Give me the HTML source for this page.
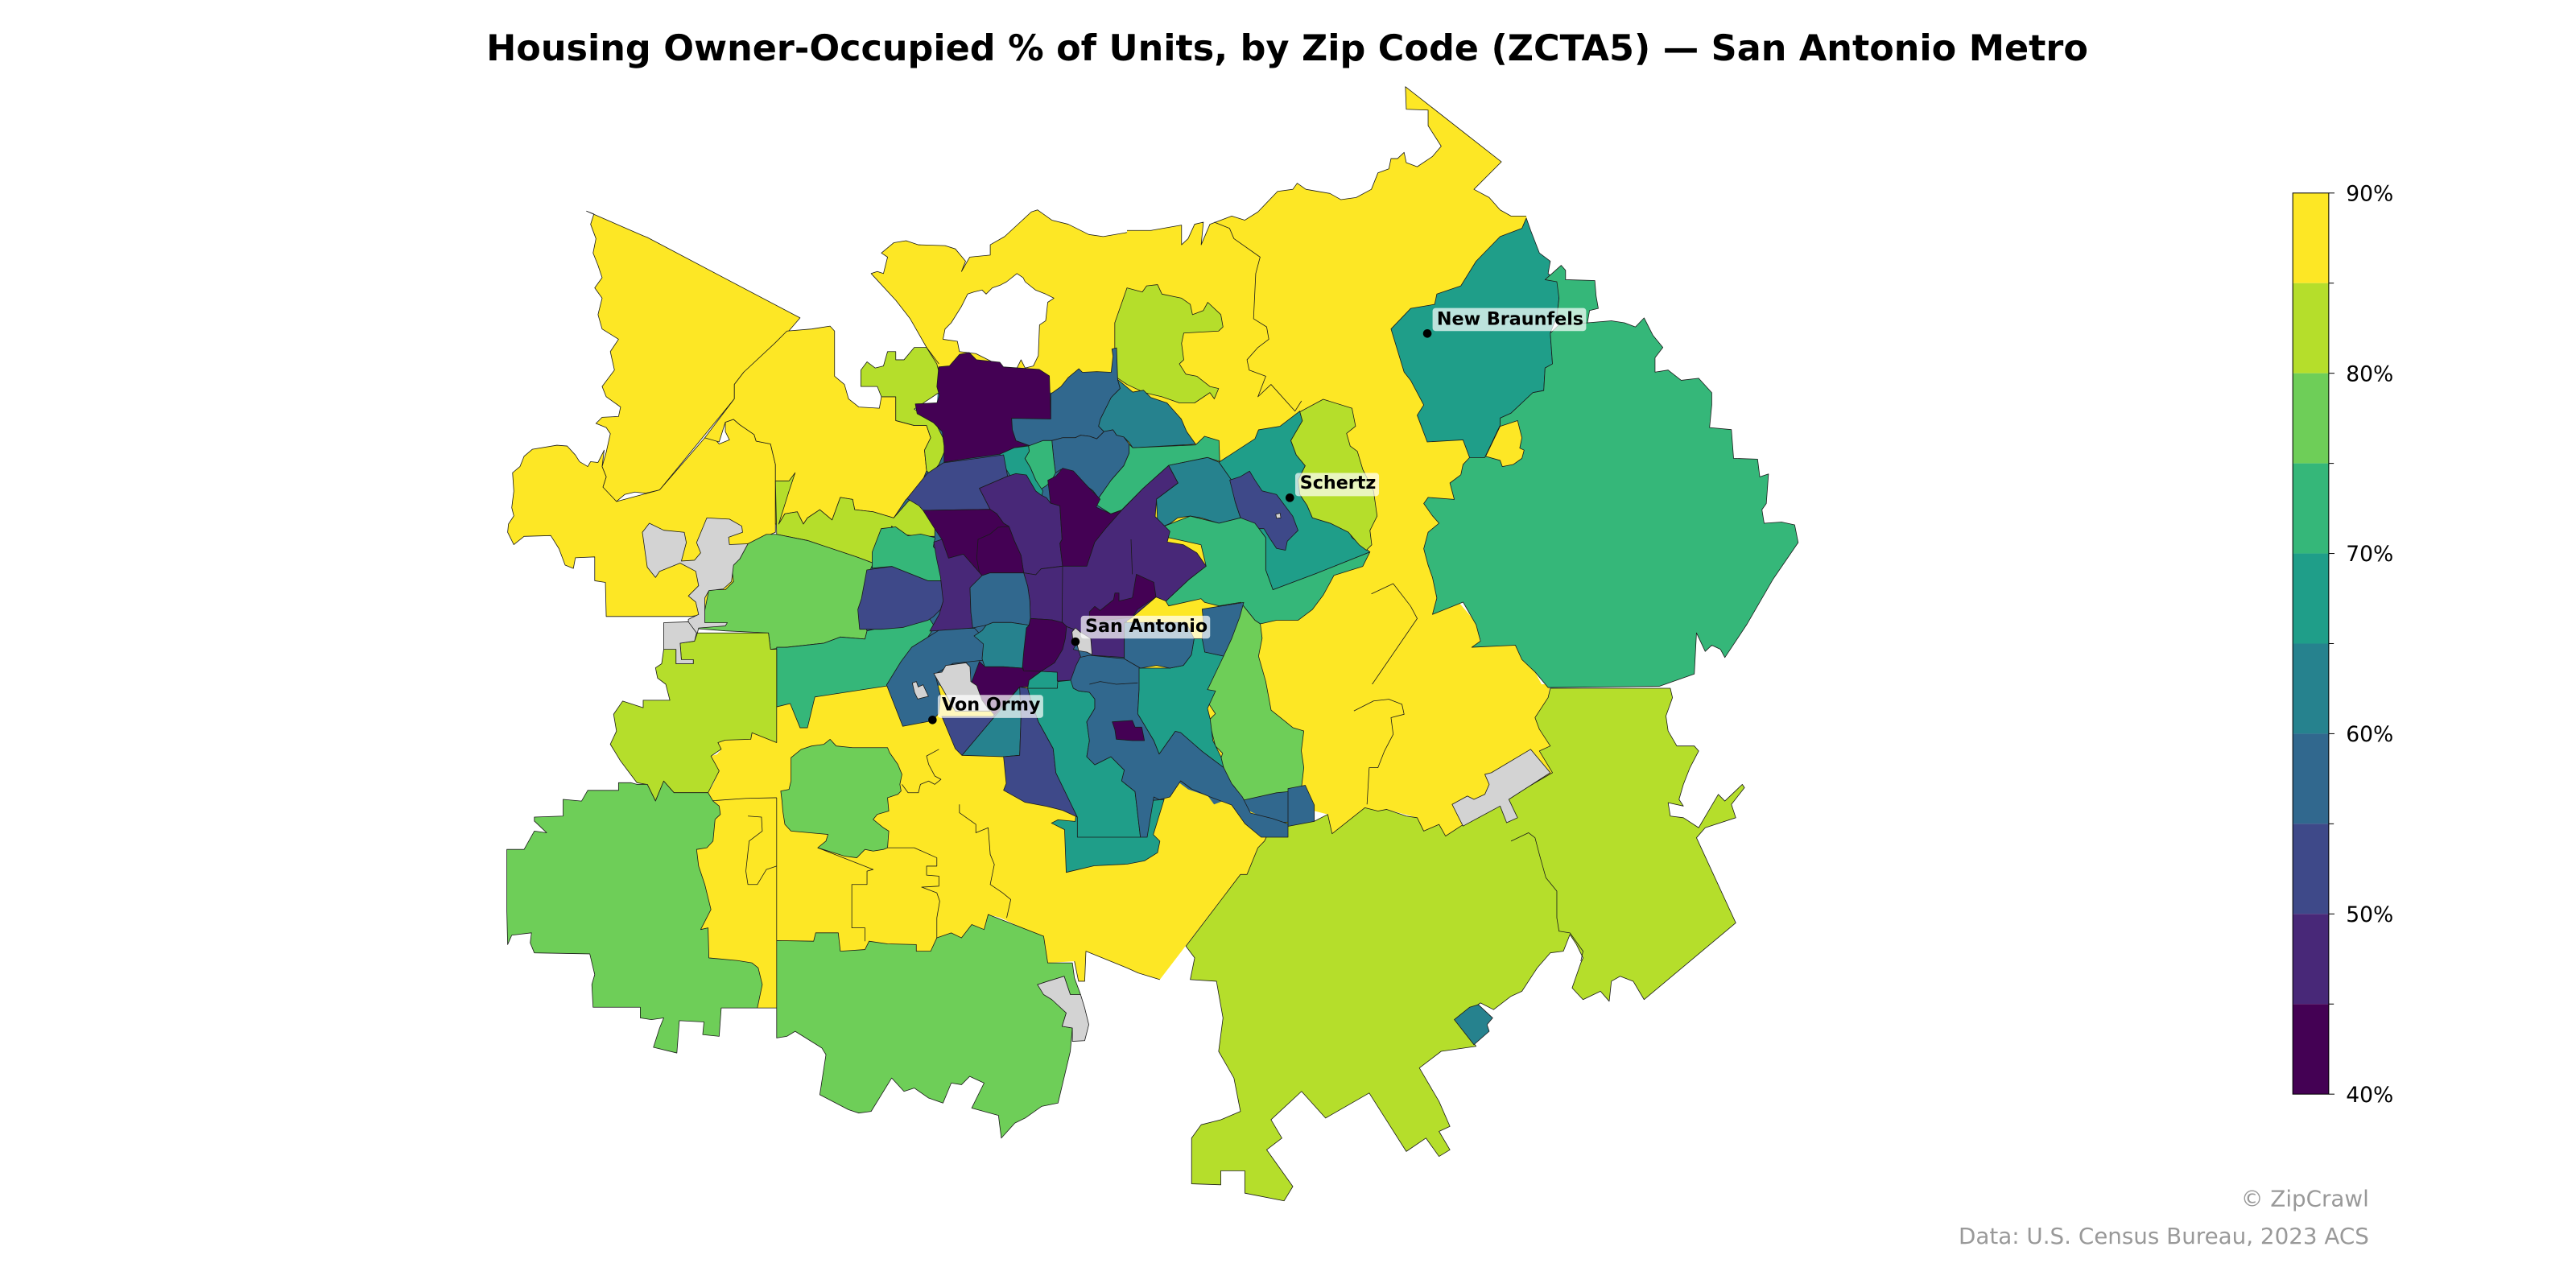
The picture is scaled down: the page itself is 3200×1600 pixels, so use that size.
<!DOCTYPE html>
<html><head><meta charset="utf-8"><style>
html,body{margin:0;padding:0;background:#fff;}
svg{display:block;}
.m polygon{stroke:#1a1a1a;stroke-width:0.8;vector-effect:non-scaling-stroke;stroke-linejoin:round;}
.m polygon.nf{stroke:none;}
.m polyline{fill:none;stroke:#1a1a1a;stroke-width:0.8;vector-effect:non-scaling-stroke;stroke-linejoin:round;}
</style></head><body>
<svg width="3200" height="1600" viewBox="0 0 1568 784" xmlns="http://www.w3.org/2000/svg">
<rect x="0" y="0" width="1568" height="784" fill="#fff"/>
<g class="m">
<!-- central safety base -->
<polygon class="nf" fill="#31688e" points="572,222 640,222 680,228 700,245 740,250 760,262 790,258 830,280 835,335 800,350 795,380 795,478 800,500 760,508 705,522 650,527 645,500 600,490 575,470 550,445 540,420 522,405 522,345 535,318 550,300 560,260 570,250"/>
<!-- ===== YELLOW LAYER ===== -->
<g transform="translate(294,49) scale(0.25)">
<polygon fill="#fde725" points="252,318 390,378 400,382 772,578 710,650 660,700 635,710 612,740 612,775 430,997 395,1005 370,1002 345,1008 325,1025 310,1015 292,990 300,965 290,940 300,905 310,860 300,845 275,835 290,820 330,818 335,795 300,770 290,745 320,705 310,660 330,630 290,605 280,570 290,530 272,505 290,480 280,450 268,420 275,385 262,350 270,325"/>
<polygon fill="#fde725" points="60,1100 75,1130 100,1110 165,1108 185,1140 200,1180 220,1188 225,1162 272,1160 272,1218 298,1222 300,1305 505,1305 540,1300 610,1220 645,1128 712,1100 712,935 700,885 665,878 660,862 625,838 610,825 590,832 590,855 600,875 575,885 560,868 540,870 430,997 325,1025 292,990 300,965 290,940 295,900 280,930 262,928 255,940 235,928 225,912 205,890 180,888 120,898 100,915 90,940 72,955 75,1000 70,1040 75,1060 62,1080"/>
<polygon fill="#fde725" points="612,740 635,710 710,640 740,610 800,605 845,598 856,610 856,720 880,740 890,775 915,795 965,798 970,770 1005,770 1005,828 1050,840 1080,840 1090,870 1075,900 1080,950 1060,1000 1030,1020 1000,1065 950,1050 905,1045 900,1020 870,1015 850,1070 820,1045 790,1065 780,1080 765,1050 735,1055 720,1080 712,1080 712,935 700,885 665,878 660,862 625,838 610,825 590,832 575,880 540,870 612,775"/>
<polygon class="nf" fill="#fde725" points="945,470 960,465 975,470 985,430 970,420 1000,395 1030,390 1060,400 1125,402 1150,410 1175,440 1165,465 1185,430 1235,425 1235,400 1270,380 1335,320 1350,315 1385,340 1425,350 1475,375 1510,380 1568,370 1568,760 1100,760 1080,650 1040,580 1005,535"/>
<polyline points="1110,690 1080,650 1040,580 1005,535 945,470 960,465 975,470 985,430 970,420 1000,395 1030,390 1060,400 1125,402 1150,410 1175,440 1165,465 1185,430 1235,425 1235,400 1270,380 1335,320 1350,315 1385,340 1425,350 1475,375 1510,380 1568,370"/>
</g>
<g transform="translate(686,49) scale(0.265625,0.25)">
<polygon class="nf" fill="#fde725" points="0,365 55,365 125,352 125,400 140,385 155,350 175,345 170,400 190,350 240,330 270,340 300,320 345,270 380,265 390,250 410,265 465,275 490,290 525,285 560,265 575,225 600,215 605,190 620,190 635,175 640,200 665,210 700,185 720,160 690,110 690,72 640,70 638,15 858,198 795,265 830,285 855,315 880,330 915,330 930,400 900,700 850,900 820,1100 760,1270 800,1320 810,1370 890,1375 935,1440 965,1500 965,1568 0,1568"/>
<polyline points="0,365 55,365 125,352 125,400 140,385 155,350 175,345 170,400 190,350 240,330 270,340 300,320 345,270 380,265 390,250 410,265 465,275 490,290 525,285 560,265 575,225 600,215 605,190 620,190 635,175 640,200 665,210 700,185 720,160 690,110 690,72 640,70 638,15 858,198 795,265 830,285 855,315 880,330 915,330"/>
<polyline points="200,345 235,360 245,385 305,430 295,470 290,580 320,600 325,630 300,650 275,680 280,705 318,720 300,770 330,740 385,805 400,780"/>
<polyline points="560,1250 610,1225 650,1280 665,1310 520,1535 520,1568"/>
</g>
<g transform="translate(294,416.5) scale(0.25,0.203125)">
<polygon class="nf" fill="#fde725" points="715,60 748,58 772,130 790,130 808,38 985,5 1568,0 1568,540 1610,530 1642,505 1648,470 1632,450 1658,345 1674,320 1695,295 1717,315 1765,335 1780,360 1812,345 1850,370 1924,415 1903,470 1887,490 1860,570 1844,570 1648,885 1595,865 1568,850 1468,800 1465,890 1450,890 1440,830 1375,835 1365,760 1260,700 1230,690 1220,735 1190,720 1165,760 1140,745 1105,760 1090,800 1055,800 1055,780 985,778 940,770 930,795 870,800 865,745 810,745 805,770 715,768 715,970 668,970 680,900 670,850 655,835 620,828 550,820 548,730 530,735 555,675 540,600 525,545 520,495 545,490 560,470 565,405 578,390 575,365 560,350 548,325 560,300 575,260 565,240 555,215 570,210 580,195 572,175 590,168 652,165 655,145 715,175"/>
<polyline points="1648,885 1595,865 1568,850 1468,800 1465,890 1450,890 1440,830"/>
<polyline points="715,970 668,970"/>
<polyline points="715,340 715,768"/>
<polyline points="548,350 640,342 715,340"/>
<polyline points="645,395 678,398 680,440 648,470 640,560 645,600 668,600 690,555 715,545"/>
<polyline points="815,490 950,555 935,560 935,600 898,600 898,730 930,730 930,770"/>
<polyline points="985,490 1050,490 1105,520 1105,545 1080,545 1080,572 1110,575 1110,605 1068,608 1105,625 1112,650 1105,700 1105,765"/>
<polyline points="1020,300 1035,325 1060,325 1065,300 1085,290 1100,300 1115,285 1100,275 1085,240 1080,215 1110,195"/>
<polyline points="1160,360 1160,385 1200,420 1200,445 1230,430 1235,510 1245,540 1235,600 1265,625 1285,645 1275,700"/>
</g>
<g transform="translate(686,416.5) scale(0.265625,0.203125)">
<polygon class="nf" fill="#fde725" points="220,0 970,0 965,40 935,100 945,135 970,185 945,200 975,265 765,425 730,455 715,420 680,440 665,400 595,375 575,380 545,370 470,448 460,390 430,380 410,350 400,305 300,320 230,280 180,150"/>
<polyline points="520,80 565,50 600,45 630,60 635,90 605,100 610,150 590,200 575,250 555,250 550,360"/>
</g>

<!-- ===== OUTER COLORED REGIONS ===== -->
<g transform="translate(294,49) scale(0.25)">
<polygon fill="#ffffff" points="1120,630 1125,605 1140,590 1165,550 1180,520 1195,515 1215,510 1225,520 1240,505 1260,498 1275,490 1300,470 1315,480 1320,490 1345,510 1370,520 1390,530 1375,540 1370,585 1355,595 1352,670 1340,695 1320,700 1310,680 1300,700 1270,700 1240,685 1200,665 1160,660 1155,635"/>
<polygon fill="#b5de2b" points="920,705 935,685 955,700 975,695 985,660 1005,660 1005,680 1025,680 1050,650 1080,650 1105,690 1115,730 1110,760 1080,780 1050,800 1100,830 1120,870 1125,900 1110,935 1090,960 1080,950 1075,900 1090,870 1080,840 1050,840 1005,828 1005,770 970,770 960,745 920,745"/>
<polygon fill="#b5de2b" points="712,975 745,975 760,955 745,1000 720,1080 735,1055 765,1050 780,1080 790,1065 820,1045 850,1070 870,1015 900,1020 905,1045 950,1050 1000,1065 1035,1025 1060,1005 1085,1040 1100,1080 1100,1110 1060,1110 1020,1105 995,1085 975,1150 950,1175 910,1160 790,1120 715,1105"/>
<polygon fill="#6ece58" points="525,1335 540,1290 550,1240 590,1240 610,1220 605,1180 625,1165 645,1128 690,1105 715,1105 790,1120 910,1160 950,1175 935,1210 930,1270 920,1300 935,1340 930,1360 870,1355 830,1370 740,1380 700,1385 695,1345 590,1340"/>
<polygon fill="#35b779" points="715,1380 740,1380 830,1370 870,1355 930,1360 935,1340 1000,1325 1080,1300 1100,1330 1060,1390 1030,1440 985,1474 808,1501 790,1576 772,1576 748,1517 715,1525"/>
<polygon fill="#b5de2b" points="440,1385 470,1385 470,1420 512,1420 512,1410 483,1410 480,1370 515,1365 522,1345 695,1345 700,1385 715,1385 715,1612 655,1588 652,1604 590,1606 572,1612 580,1628 555,1645 575,1681 548,1734 465,1734 440,1706 420,1754 400,1714 375,1710 335,1657 310,1616 325,1584 318,1543 340,1511 390,1527 390,1509 455,1509 445,1470 425,1455 420,1430 435,1420"/>
<polygon fill="#d3d3d3" points="388,1100 405,1078 440,1095 490,1100 495,1125 483,1170 515,1168 530,1150 520,1125 545,1065 600,1068 630,1085 632,1100 598,1112 600,1130 645,1128 625,1165 610,1180 605,1220 585,1238 550,1242 540,1260 540,1320 595,1320 590,1328 525,1333 522,1345 500,1345 500,1312 525,1300 518,1270 500,1255 525,1230 518,1195 480,1175 430,1195 420,1210 400,1185 395,1150"/>
<polygon fill="#d3d3d3" points="440,1320 500,1318 520,1345 515,1365 480,1370 483,1410 512,1410 512,1420 470,1420 470,1385 440,1385 440,1350"/>
</g>
<g transform="translate(686,49) scale(0.265625,0.25)">
<polygon fill="#1f9e89" points="605,605 650,555 705,545 710,520 765,500 800,440 855,380 905,360 915,335 925,365 945,420 970,440 965,470 988,490 990,530 985,575 970,615 975,690 958,700 955,755 930,760 880,810 855,822 855,840 820,918 785,918 770,875 688,880 665,815 680,790 650,730 635,710 625,675"/>
<polygon fill="#35b779" points="970,615 990,595 1055,590 1110,585 1140,590 1165,600 1185,578 1205,620 1228,650 1210,675 1210,710 1240,705 1270,730 1310,725 1340,760 1340,790 1335,845 1385,850 1390,920 1445,922 1450,965 1470,958 1465,1030 1455,1045 1460,1078 1500,1075 1530,1082 1538,1125 1480,1215 1420,1325 1370,1405 1360,1385 1340,1375 1325,1390 1305,1345 1300,1445 1220,1475 965,1478 935,1440 905,1410 890,1375 790,1380 810,1365 800,1325 770,1270 700,1300 710,1260 700,1210 690,1180 680,1140 690,1100 715,1078 700,1060 680,1030 690,1015 750,1020 740,980 765,960 770,935 785,918 820,918 855,840 855,822 880,810 930,760 955,755 958,700 975,690"/>
<polygon fill="#35b779" points="958,485 995,450 1005,462 1005,485 1072,487 1075,525 1080,555 1060,560 1055,590 990,595 985,575 990,530 985,490"/>
<polygon fill="#fde725" points="822,915 855,842 895,828 905,870 900,895 910,900 905,920 885,935 860,940 855,925"/>
<polygon fill="#b5de2b" points="-28,590 0,505 35,515 45,500 70,497 80,520 125,530 145,545 150,570 175,560 185,540 215,570 220,600 210,610 130,615 125,640 130,680 120,690 135,715 160,720 190,745 210,750 200,775 190,760 155,785 120,785 80,770 40,760 0,740 -28,720"/>
</g>
<g transform="translate(294,416.5) scale(0.25,0.203125)">
<polygon fill="#6ece58" points="750,220 775,195 800,185 830,180 845,165 860,185 900,190 985,190 990,205 1010,240 1020,270 1015,300 1018,320 1010,330 985,340 988,380 960,390 950,405 975,430 988,440 985,490 975,495 950,500 930,495 910,520 880,515 815,490 835,470 840,450 750,440 735,420 730,380 728,350 725,320 745,315 750,290"/>
<polygon fill="#6ece58" points="58,495 100,495 125,440 155,445 125,410 125,398 195,395 195,345 240,350 255,318 330,318 330,295 360,295 375,300 400,300 420,350 440,290 465,325 548,325 560,350 575,365 578,390 565,405 560,470 545,490 520,495 525,545 540,600 555,675 530,735 548,730 550,820 620,828 655,835 670,850 680,900 668,970 580,970 575,1055 535,1050 538,1012 478,1008 472,1105 415,1088 430,1030 440,1000 410,1005 383,1000 383,968 268,968 265,900 272,870 260,808 125,805 115,775 118,745 70,752 60,780 58,680"/>
<polygon fill="#6ece58" points="715,768 805,770 810,745 865,745 870,800 930,795 940,770 985,778 1055,780 1055,800 1090,800 1105,760 1140,745 1165,760 1190,720 1220,735 1230,690 1365,755 1375,835 1435,835 1440,880 1455,930 1430,930 1415,875 1350,900 1385,945 1410,960 1420,985 1410,1025 1435,1030 1430,1100 1400,1255 1360,1265 1320,1300 1295,1315 1262,1360 1255,1292 1190,1270 1220,1195 1185,1175 1165,1200 1140,1195 1120,1255 1085,1240 1050,1210 1025,1220 995,1180 945,1280 915,1285 890,1275 820,1230 835,1110 825,1090 760,1040 740,1055 715,1060"/>
<polygon fill="#d3d3d3" points="1350,900 1375,890 1415,875 1430,930 1455,930 1465,970 1475,1020 1465,1068 1435,1070 1435,1030 1410,1025 1420,985 1385,945 1365,930"/>
</g>
<g transform="translate(686,416.5) scale(0.265625,0.203125)">
<polygon fill="#b5de2b" points="335,415 430,410 460,390 470,448 545,370 575,380 595,375 640,395 665,400 680,440 715,420 730,455 765,425 975,265 945,200 970,185 945,135 935,100 965,40 970,12 1245,12 1250,40 1235,95 1240,140 1260,185 1300,185 1310,200 1290,250 1275,300 1265,345 1275,365 1240,355 1245,395 1275,400 1310,430 1355,330 1370,350 1410,300 1415,310 1385,360 1395,400 1325,430 1305,460 1395,715 1185,945 1160,890 1130,875 1110,890 1105,950 1085,920 1045,945 1020,910 1040,835 1045,820 1030,780 1015,750 1000,800 970,805 940,850 905,920 880,935 840,975 810,955 755,1005 800,1085 720,1100 670,1150 715,1250 740,1325 715,1340 740,1395 715,1415 685,1360 640,1400 555,1225 455,1300 400,1220 330,1305 355,1360 320,1395 380,1505 360,1548 270,1525 270,1458 215,1458 215,1500 148,1497 148,1360 170,1320 215,1305 260,1280 245,1180 210,1100 220,1000 205,890 145,885 155,820 135,785 260,570 275,570 300,490 315,470"/>
<polyline points="880,470 920,445 935,460 945,510 960,580 985,620 985,700 990,740 1015,745 1045,800 1040,830"/>
<polygon fill="#d3d3d3" points="745,360 780,335 795,345 820,330 830,300 820,270 835,265 925,195 970,265 875,345 895,400 870,415 855,365 770,425"/>
<polygon fill="#26828e" points="750,1005 785,968 805,960 838,1000 825,1020 830,1040 795,1080"/>
</g>

<!-- ===== CENTRAL (Z3) ===== -->
<g transform="translate(514.5,196) scale(0.21875)">
<polygon fill="#440154" points="195,228 255,225 262,205 255,180 260,125 290,122 318,90 345,85 365,105 430,112 440,125 540,132 568,150 572,270 463,268 465,300 475,330 510,343 470,350 430,368 355,378 275,390 275,345 270,305 255,290 245,280 200,255"/>
<polygon fill="#31688e" points="463,268 572,270 572,200 600,180 620,155 650,130 660,140 700,138 740,140 745,95 742,75 755,72 758,160 765,185 740,210 725,240 710,270 705,290 720,305 700,325 680,318 655,315 640,322 605,322 575,330 550,330 520,345 510,343 475,330 465,300"/>
<polygon fill="#26828e" points="758,160 800,195 830,190 850,210 895,225 935,270 950,305 975,340 800,350 790,335 775,320 755,315 745,300 720,305 705,290 710,270 740,210 765,185"/>
<polygon fill="#31688e" points="575,330 605,322 640,322 655,315 680,318 700,325 720,305 745,300 755,315 775,320 790,340 790,365 775,400 740,440 705,490 690,470 650,440 620,420 600,410 585,420 580,380"/>
<polygon fill="#35b779" points="510,345 550,330 575,330 580,380 585,420 575,440 560,455 545,465 530,440 515,405 500,380 512,360"/>
<polygon fill="#1f9e89" points="430,368 470,350 510,345 512,360 500,380 515,405 530,440 550,470 545,490 535,520 520,505 505,490 495,470 460,430 445,405"/>
<polygon fill="#35b779" points="705,490 698,508 739,534 769,523 829,463 900,399 1008,377 1042,388 1040,330 1000,318 975,342 800,350 790,340 790,365 775,400 740,440"/>
<polygon fill="#26828e" points="866,493 926,448 900,399 1008,377 1040,390 1075,440 1085,500 1100,545 1080,550 1040,560 990,545 960,540 925,545 905,560 870,575"/>
<polygon fill="#1f9e89" points="1040,390 1140,325 1150,300 1210,290 1265,248 1272,275 1240,330 1255,370 1280,400 1260,440 1265,480 1285,510 1300,545 1350,560 1400,580 1410,600 1460,640 1310,700 1190,745 1170,690 1170,600 1140,560 1100,545 1085,500 1075,440"/>
<polygon fill="#3e4989" points="1070,440 1100,430 1125,415 1140,440 1160,470 1200,480 1230,520 1245,540 1260,580 1245,595 1230,610 1225,635 1200,630 1180,600 1165,575 1140,575 1100,545 1085,500"/>
<polygon fill="#d3d3d3" points="1198,535 1210,532 1212,545 1200,546"/>
<polygon fill="#b5de2b" points="1265,250 1330,215 1410,240 1420,290 1395,310 1405,345 1425,360 1440,410 1470,470 1480,540 1460,580 1465,620 1450,635 1430,620 1400,585 1350,560 1300,545 1285,510 1265,480 1260,440 1280,400 1255,370 1240,330 1272,275"/>
<polygon fill="#35b779" points="870,575 960,540 1040,560 1100,545 1140,560 1170,600 1170,690 1190,745 1310,700 1460,640 1440,680 1360,705 1330,760 1300,800 1260,830 1200,830 1155,840 1140,830 1100,780 1040,790 1000,780 990,770 900,790 892,777 956,717 1004,679 990,620 900,600"/>
<polygon fill="#3e4989" points="35,800 45,770 60,690 130,680 180,700 230,720 270,720 275,770 265,800 245,820 230,830 160,850 100,855 40,855"/>
<polygon fill="#35b779" points="75,640 100,575 140,570 175,595 210,590 250,600 245,625 265,650 270,720 230,720 180,700 130,680 75,685"/>
<polygon fill="#31688e" points="115,1010 155,945 185,905 225,880 265,855 360,852 385,880 395,940 300,950 250,980 265,1040 260,1090 240,1110 160,1125"/>
<polygon fill="#6ece58" points="1000,920 1030,900 1060,870 1080,820 1100,780 1140,830 1155,840 1160,880 1150,930 1170,1000 1185,1080 1210,1100 1246,1129 1276,1138 1269,1193 1276,1240 1270,1291 1250,1305 1200,1310 1110,1330 1080,1290 1060,1270 1040,1230 1050,1200 1030,1180 1020,1140 1010,1110 1030,1090 1010,1060 1000,1020 1015,1000 1000,960"/>
</g>
<!-- ref-coordinate bits -->
<polygon fill="#1f9e89" points="655,495 692,488 708.6,486.6 702,508 706,512 704.6,519 696.6,524 686,526 666,527 649,531 648,505 640,501 644,499 654.5,500"/>
<polygon fill="#31688e" points="784,480 794.5,478 800,490 800,500 784,503"/>

<!-- ===== CORE (Z8) ===== -->
<g transform="translate(548.8,274.4) scale(0.163333)">
<polygon fill="#3e4989" points="20,178 95,85 155,45 380,15 395,95 290,140 330,218 80,222 65,205"/>
<polygon fill="#482878" points="290,140 395,95 425,85 465,90 500,150 520,165 540,175 555,195 590,205 598,330 590,345 600,430 520,440 500,462 455,455 445,390 420,335 400,282 380,270 355,235 330,218"/>
<polygon fill="#440154" points="545,110 575,95 600,65 640,75 700,140 740,180 725,210 780,235 820,222 760,290 720,340 690,430 640,440 600,430 590,345 598,330 590,205 555,195 550,150"/>
<polygon fill="#482878" points="598,430 690,430 720,340 760,290 820,222 900,140 995,55 1030,120 950,180 945,245 1000,300 990,340 1050,350 1100,380 1135,430 1070,480 985,560 948,545 860,620 830,640 830,770 710,762 700,715 660,700 640,665 615,655 598,640"/>
<polyline points="855,330 860,460"/>
<polygon fill="#440154" points="700,600 720,580 740,595 790,555 795,530 810,530 810,560 860,548 875,460 940,490 948,545 880,590 860,620 780,630 720,640 700,625"/>
<polygon fill="#440154" points="80,222 330,218 355,235 380,270 400,282 420,335 445,390 455,455 400,455 330,455 300,465 230,385 175,400 150,330 120,285"/>
<polyline points="290,455 280,400 285,330 330,310 360,285 400,282"/>
<polygon fill="#482878" points="120,340 150,330 175,400 230,385 300,465 255,510 258,600 265,660 200,665 105,672 140,610 155,560 145,470 130,400"/>
<polygon fill="#482878" points="455,455 500,462 520,440 600,430 598,640 560,630 480,625 478,560 470,505"/>
<polygon fill="#31688e" points="255,510 300,465 330,455 400,455 455,455 470,505 478,560 480,625 475,650 410,640 340,640 315,650 265,660 258,600"/>
<polygon fill="#440154" points="480,625 560,630 600,640 615,655 610,700 600,740 570,790 520,822 455,820 450,800 455,750 465,660 475,650"/>
<polygon fill="#26828e" points="270,690 300,670 315,650 340,640 410,640 475,650 465,660 455,750 450,810 380,805 310,805 300,775 305,720"/>
<polygon fill="#440154" points="290,785 310,805 380,805 450,810 455,820 520,822 475,855 470,880 445,880 440,915 405,930 350,990 300,930 262,860"/>
<polygon fill="#d3d3d3" points="120,830 150,825 165,800 240,790 255,805 258,860 280,875 300,930 330,970 200,970 160,900"/>
<polygon fill="#d3d3d3" points="40,865 55,860 62,880 80,872 100,915 60,925 48,900"/>
<polygon fill="#3e4989" points="150,990 340,990 440,880 225,1135 200,1110 175,1050"/>
<polygon fill="#26828e" points="440,880 445,990 440,1135 380,1140 225,1135"/>
<polygon fill="#3e4989" points="440,880 470,885 485,940 510,1010 565,1110 575,1200 655,1365 600,1340 540,1325 460,1310 380,1265 390,1240 380,1140 440,1135 445,990"/>
<polygon fill="#1f9e89" points="470,885 580,885 580,860 632,855 640,885 660,895 700,900 720,925 720,960 690,1010 700,1080 690,1140 720,1170 780,1140 830,1190 820,1230 870,1270 890,1440 655,1440 655,1365 575,1200 565,1110 510,1010 485,940"/>
<polygon fill="#1f9e89" points="470,885 475,855 520,822 580,825 582,860 580,885"/>
<polygon fill="#482878" points="520,822 570,790 600,740 610,700 615,655 640,665 660,700 650,720 640,740 660,745 668,770 655,800 640,830 632,855 580,858 580,825"/>
<polygon fill="#31688e" points="630,855 650,800 665,770 700,762 830,775 890,810 885,890 880,980 940,1080 960,1130 1020,1045 1040,1050 1120,1120 1200,1180 1230,1240 1270,1290 1300,1350 1380,1370 1440,1390 1440,1440 1340,1440 1280,1390 1230,1320 1150,1290 1080,1260 1040,1230 1000,1290 960,1300 940,1290 915,1440 890,1440 870,1270 820,1230 830,1190 780,1140 720,1170 690,1140 700,1080 690,1010 720,960 720,925 700,900 660,895 640,885"/>
<polyline points="700,870 740,860 800,870 880,865"/>
<polygon fill="#1f9e89" points="885,810 1000,810 1050,800 1080,760 1090,700 1125,700 1130,750 1200,765 1140,890 1170,895 1140,960 1150,1000 1160,1080 1190,1140 1200,1180 1120,1120 1040,1050 1020,1045 960,1130 940,1080 880,980 885,890"/>
<polygon fill="#31688e" points="830,640 1060,640 1090,700 1080,760 1050,800 1000,810 950,800 890,810 830,775"/>
<polygon fill="#31688e" points="1120,590 1275,565 1260,620 1230,700 1200,765 1130,750 1120,700 1125,640"/>
<polygon fill="#440154" points="785,1010 860,1005 870,1030 895,1030 905,1080 860,1080 800,1075 795,1040"/>
<polygon fill="#d3d3d3" points="635,675 648,660 665,675 690,690 705,700 710,760 690,750 660,745 655,725 640,720"/>
</g>
</g>

<!-- ===== LABELS ===== -->
<g font-family="'DejaVu Sans','Liberation Sans',sans-serif" font-weight="bold" font-size="10.9" fill="#000">
<circle cx="868.8" cy="203" r="2.6" fill="#000"/>
<rect x="872" y="187.5" width="93.5" height="14" rx="1.8" fill="#fff" fill-opacity="0.7"/>
<text x="874.6" y="197.8">New Braunfels</text>
<circle cx="785.1" cy="303" r="2.6" fill="#000"/>
<rect x="788.4" y="287.9" width="51" height="14.1" rx="1.8" fill="#fff" fill-opacity="0.7"/>
<text x="791.2" y="297.4">Schertz</text>
<circle cx="654.6" cy="390.6" r="2.6" fill="#000"/>
<rect x="657.9" y="374.8" width="78.7" height="13.9" rx="1.8" fill="#fff" fill-opacity="0.7"/>
<text x="660.5" y="384.7">San Antonio</text>
<circle cx="567.6" cy="438.2" r="2.6" fill="#000"/>
<rect x="570.8" y="423" width="64.2" height="14" rx="1.8" fill="#fff" fill-opacity="0.7"/>
<text x="573.3" y="432.5">Von Ormy</text>
</g>

<!-- ===== TITLE ===== -->
<text x="783.5" y="36.8" text-anchor="middle" font-family="'DejaVu Sans','Liberation Sans',sans-serif" font-weight="bold" font-size="21.8" textLength="975" lengthAdjust="spacingAndGlyphs" fill="#000">Housing Owner-Occupied % of Units, by Zip Code (ZCTA5) — San Antonio Metro</text>

<!-- ===== COLORBAR ===== -->
<g>
<rect x="1395.6" y="117.5" width="21.9" height="54.85" fill="#fde725"/>
<rect x="1395.6" y="172.35" width="21.9" height="54.85" fill="#b5de2b"/>
<rect x="1395.6" y="227.2" width="21.9" height="54.85" fill="#6ece58"/>
<rect x="1395.6" y="282.05" width="21.9" height="54.85" fill="#35b779"/>
<rect x="1395.6" y="336.9" width="21.9" height="54.85" fill="#1f9e89"/>
<rect x="1395.6" y="391.75" width="21.9" height="54.85" fill="#26828e"/>
<rect x="1395.6" y="446.6" width="21.9" height="54.85" fill="#31688e"/>
<rect x="1395.6" y="501.45" width="21.9" height="54.85" fill="#3e4989"/>
<rect x="1395.6" y="556.3" width="21.9" height="54.85" fill="#482878"/>
<rect x="1395.6" y="611.15" width="21.9" height="54.85" fill="#440154"/>
<rect x="1395.6" y="117.5" width="21.9" height="548.5" fill="none" stroke="#000" stroke-width="0.5"/>
<g stroke="#000" stroke-width="0.5">
<line x1="1417.5" y1="117.5" x2="1421" y2="117.5"/>
<line x1="1417.5" y1="172.35" x2="1420.6" y2="172.35"/>
<line x1="1417.5" y1="227.2" x2="1421" y2="227.2"/>
<line x1="1417.5" y1="282.05" x2="1420.6" y2="282.05"/>
<line x1="1417.5" y1="336.9" x2="1421" y2="336.9"/>
<line x1="1417.5" y1="391.75" x2="1420.6" y2="391.75"/>
<line x1="1417.5" y1="446.6" x2="1421" y2="446.6"/>
<line x1="1417.5" y1="501.45" x2="1420.6" y2="501.45"/>
<line x1="1417.5" y1="556.3" x2="1421" y2="556.3"/>
<line x1="1417.5" y1="611.15" x2="1420.6" y2="611.15"/>
<line x1="1417.5" y1="666" x2="1421" y2="666"/>
</g>
<g font-family="'DejaVu Sans','Liberation Sans',sans-serif" font-size="13" fill="#000">
<text x="1428" y="122.2">90%</text>
<text x="1428" y="231.9">80%</text>
<text x="1428" y="341.6">70%</text>
<text x="1428" y="451.3">60%</text>
<text x="1428" y="561">50%</text>
<text x="1428" y="670.7">40%</text>
</g>
</g>

<!-- ===== FOOTER ===== -->
<g font-family="'DejaVu Sans','Liberation Sans',sans-serif" font-size="13.6" fill="#999999" text-anchor="end">
<text x="1442" y="734.2">© ZipCrawl</text>
<text x="1442" y="757">Data: U.S. Census Bureau, 2023 ACS</text>
</g>
</svg>
</body></html>
